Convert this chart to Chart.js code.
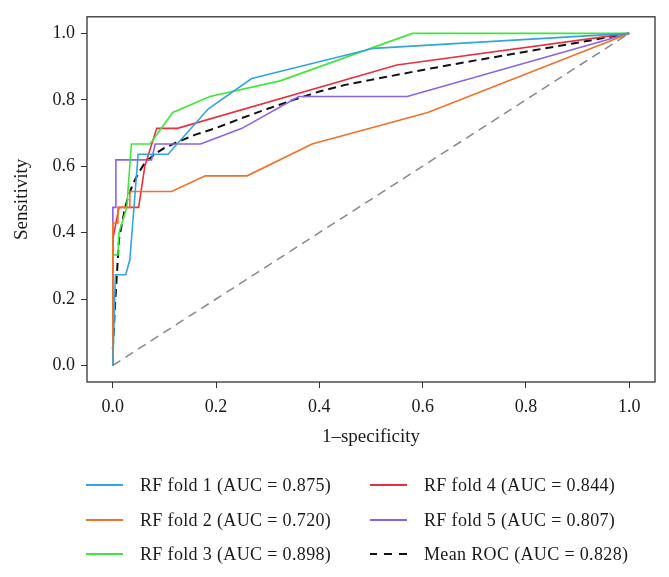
<!DOCTYPE html>
<html>
<head>
<meta charset="utf-8">
<script src="https://cdn.jsdelivr.net/npm/chart.js@4.4.1/dist/chart.umd.min.js"></script>
<style>
  html, body { margin: 0; padding: 0; background: #fff; }
  #wrap { position: relative; width: 669px; height: 577px; }
  canvas { position: absolute; left: 0; top: 0; }
  .leg { position: absolute; font-family: 'Liberation Serif', 'Times New Roman', serif; font-size: 18px; letter-spacing: 0.35px; color: #1a1a1a; white-space: nowrap; line-height: 20px; }
  .legline { position: absolute; height: 0; }
</style>
</head>
<body>
<div id="wrap">
  <canvas id="c" width="669" height="577"></canvas>
  <div id="legend"></div>
</div>
<script>
// ---- data ----
const xTicks = [0.0, 0.2, 0.4, 0.6, 0.8, 1.0];
const yTicks = [0.0, 0.2, 0.4, 0.6, 0.8, 1.0];

const fold1Fpr = [0, 0.005, 0.025, 0.033, 0.049, 0.107, 0.185, 0.269, 0.505, 1];
const fold1Tpr = [0, 0.273, 0.273, 0.318, 0.636, 0.636, 0.773, 0.864, 0.955, 1];

const fold2Fpr = [0, 0, 0.01, 0.01, 0.033, 0.033, 0.114, 0.179, 0.26, 0.386, 0.61, 1];
const fold2Tpr = [0, 0.429, 0.429, 0.476, 0.476, 0.524, 0.524, 0.571, 0.571, 0.667, 0.762, 1];

const fold3Fpr = [0, 0, 0.01, 0.012, 0.027, 0.036, 0.072, 0.116, 0.188, 0.324, 0.58, 1];
const fold3Tpr = [0, 0.333, 0.333, 0.4, 0.476, 0.667, 0.667, 0.762, 0.81, 0.857, 1, 1];

const fold4Fpr = [0, 0, 0.012, 0.05, 0.062, 0.085, 0.125, 0.55, 1];
const fold4Tpr = [0, 0.381, 0.476, 0.476, 0.6, 0.714, 0.714, 0.905, 1];

const fold5Fpr = [0, 0, 0.006, 0.006, 0.075, 0.082, 0.17, 0.25, 0.36, 0.57, 1];
const fold5Tpr = [0, 0.476, 0.476, 0.619, 0.619, 0.667, 0.667, 0.714, 0.81, 0.81, 1];

const meanFpr = [0, 0.005, 0.012, 0.023, 0.03, 0.04, 0.05, 0.062, 0.08, 0.1, 0.124, 0.16, 0.2, 0.25, 0.3, 0.35, 0.4, 0.45, 0.5, 0.6, 0.7, 0.8, 0.9, 1];
const meanTpr = [0.05, 0.2, 0.38, 0.47, 0.51, 0.55, 0.58, 0.61, 0.635, 0.655, 0.672, 0.695, 0.715, 0.745, 0.773, 0.8, 0.825, 0.845, 0.86, 0.89, 0.918, 0.945, 0.972, 1];

const chanceFpr = [0, 1];
const chanceTpr = [0, 1];

const labels = [
  'RF fold 1 (AUC = 0.875)',
  'RF fold 2 (AUC = 0.720)',
  'RF fold 3 (AUC = 0.898)',
  'RF fold 4 (AUC = 0.844)',
  'RF fold 5 (AUC = 0.807)',
  'Mean ROC (AUC = 0.828)'
];
const colors = ['#33a4df', '#f0722a', '#3ee63e', '#e8303c', '#8a62ea', '#111111'];

const pts = (xs, ys) => xs.map((x, i) => ({x: x, y: ys[i]}));

const FONT = "'Liberation Serif', 'Times New Roman', serif";

const series = [
  [fold1Fpr, fold1Tpr], [fold2Fpr, fold2Tpr], [fold3Fpr, fold3Tpr],
  [fold4Fpr, fold4Tpr], [fold5Fpr, fold5Tpr]
];

const datasets = [];
datasets.push({
  label: 'chance', data: pts(chanceFpr, chanceTpr), borderColor: '#888888',
  borderWidth: 1.5, borderDash: [9, 6], pointRadius: 0, fill: false
});
series.forEach((s, i) => {
  datasets.push({
    label: labels[i], data: pts(s[0], s[1]), borderColor: colors[i],
    borderWidth: 1.6, pointRadius: 0, fill: false
  });
});
datasets.push({
  label: labels[5], data: pts(meanFpr, meanTpr), borderColor: colors[5],
  borderWidth: 2, borderDash: [8, 5], pointRadius: 0, fill: false
});

const boxPlugin = {
  id: 'box',
  afterDraw(chart) {
    const a = chart.chartArea, ctx = chart.ctx;
    ctx.save();
    ctx.strokeStyle = '#333';
    ctx.lineWidth = 1.3;
    ctx.strokeRect(a.left, a.top, a.right - a.left, a.bottom - a.top);
    ctx.restore();
  }
};

const tickOpts = (arr) => ({
  afterBuildTicks: (scale) => { scale.ticks = arr.map(v => ({value: v})); }
});

new Chart(document.getElementById('c'), {
  type: 'line',
  data: { datasets: datasets },
  options: {
    responsive: false,
    animation: false,
    parsing: true,
    layout: { padding: { left: 0, right: 14, top: 14, bottom: 125 } },
    plugins: { legend: { display: false }, tooltip: { enabled: false } },
    elements: { line: { tension: 0 } },
    scales: {
      x: Object.assign({
        type: 'linear', min: -0.05, max: 1.05,
        border: { display: false },
        grid: { drawOnChartArea: false, drawTicks: true, tickLength: 6, color: '#333', lineWidth: 1 },
        ticks: { color: '#1a1a1a', font: { family: FONT, size: 18 }, padding: 8, maxRotation: 0,
                 callback: v => Number(v).toFixed(1) },
        title: { display: true, text: '1–specificity', color: '#1a1a1a', font: { family: FONT, size: 19 },
                 padding: { top: 0, bottom: 4 } },
        afterFit: (s) => { s.height = 70; }
      }, tickOpts(xTicks)),
      y: Object.assign({
        type: 'linear', min: -0.05, max: 1.05,
        border: { display: false },
        grid: { drawOnChartArea: false, drawTicks: true, tickLength: 6, color: '#333', lineWidth: 1 },
        ticks: { color: '#1a1a1a', font: { family: FONT, size: 18 }, padding: 6,
                 callback: v => Number(v).toFixed(1) },
        title: { display: true, text: 'Sensitivity', color: '#1a1a1a', font: { family: FONT, size: 19 },
                 padding: { top: 11, bottom: 0 } },
        afterFit: (s) => { s.width = 87; }
      }, tickOpts(yTicks))
    }
  },
  plugins: [boxPlugin]
});

// ---- HTML legend (two columns, column-major) ----
const leg = document.getElementById('legend');
const rowsY = [485, 520, 554];
const colLineX = [86, 370];
const colTextX = [140, 424];
labels.forEach((lab, i) => {
  const col = Math.floor(i / 3), row = i % 3;
  const line = document.createElement('div');
  line.className = 'legline';
  line.style.left = colLineX[col] + 'px';
  line.style.top = (rowsY[row] - 1) + 'px';
  line.style.width = '37px';
  if (i === 5) {
    line.style.borderTop = '2px dashed ' + colors[i];
    line.style.borderImage = 'repeating-linear-gradient(to right, #111 0 8px, transparent 8px 14px) 1';
  } else {
    line.style.borderTop = '2px solid ' + colors[i];
  }
  leg.appendChild(line);
  const t = document.createElement('div');
  t.className = 'leg';
  t.textContent = lab;
  t.style.left = colTextX[col] + 'px';
  t.style.top = (rowsY[row] - 10) + 'px';
  leg.appendChild(t);
});
</script>
</body>
</html>
